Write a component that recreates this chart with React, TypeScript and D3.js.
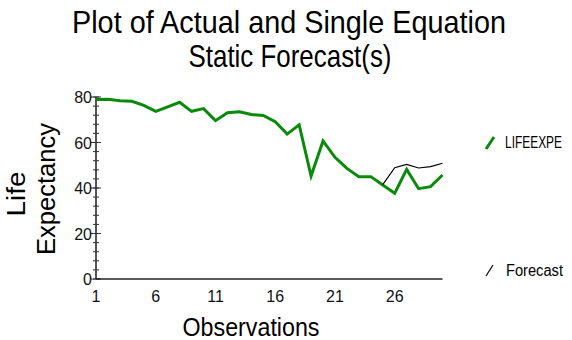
import React, { useRef, useEffect } from 'react';
import * as d3 from 'd3';

const observations = d3.range(1, 31);
const actual = [78.9, 79.0, 78.4, 78.1, 76.3, 73.7, 75.7, 77.7, 73.7, 74.9, 69.6, 73.1, 73.5, 72.3, 71.9, 69.1, 63.7, 67.8, 45.3, 60.7, 53.5, 48.6, 45.0, 45.0, 41.3, 37.7, 48.2, 39.7, 40.6, 45.7];
const forecastObs = [25, 26, 27, 28, 29, 30];
const forecast = [41.5, 48.9, 50.4, 48.8, 49.4, 50.9];
const xTicks = [1, 6, 11, 16, 21, 26];
const yTicks = [0, 20, 40, 60, 80];

const App = () => {
  const svgRef = useRef<SVGSVGElement>(null);

  useEffect(() => {
    const svg = d3.select(svgRef.current);
    svg.selectAll('*').remove();
    const font = 'Liberation Sans, Arial, sans-serif';

    const x = d3.scaleLinear().domain([1, 30]).range([96, 442.5]);
    const y = d3.scaleLinear().domain([0, 80]).range([279, 97]);

    // title (glyphs are tall and slightly condensed in the original)
    svg.append('text').attr('x', 289).attr('y', 33).attr('text-anchor', 'middle')
      .attr('font-family', font).attr('font-size', 32).attr('fill', '#000')
      .attr('textLength', 434).attr('lengthAdjust', 'spacingAndGlyphs')
      .text('Plot of Actual and Single Equation');
    svg.append('text').attr('x', 290).attr('y', 67).attr('text-anchor', 'middle')
      .attr('font-family', font).attr('font-size', 32).attr('fill', '#000')
      .attr('textLength', 203).attr('lengthAdjust', 'spacingAndGlyphs')
      .text('Static Forecast(s)');

    // y axis with minor ticks
    const yAxis = svg.append('g');
    yAxis.append('line').attr('x1', x(1)).attr('x2', x(1)).attr('y1', y(80)).attr('y2', y(0))
      .attr('stroke', '#555').attr('stroke-width', 2);
    yAxis.selectAll('.minor').data(d3.range(0, 81, 4)).enter().append('line')
      .attr('x1', x(1) - 3).attr('x2', x(1) + 3)
      .attr('y1', d => y(d)).attr('y2', d => y(d))
      .attr('stroke', '#333').attr('stroke-width', 1);
    yAxis.selectAll('.major').data(yTicks).enter().append('line')
      .attr('x1', x(1) - 5).attr('x2', x(1) + 5)
      .attr('y1', d => y(d)).attr('y2', d => y(d))
      .attr('stroke', '#333').attr('stroke-width', 1);
    yAxis.selectAll('.lbl').data(yTicks).enter().append('text')
      .attr('x', x(1) - 4).attr('y', d => y(d) + 6).attr('text-anchor', 'end')
      .attr('font-family', font).attr('font-size', 16).attr('fill', '#111')
      .text(d => d);

    // x axis
    const xAxis = svg.append('g');
    xAxis.append('line').attr('x1', x(1)).attr('x2', x(30)).attr('y1', y(0)).attr('y2', y(0))
      .attr('stroke', '#222').attr('stroke-width', 1.5);
    xAxis.selectAll('text').data(xTicks).enter().append('text')
      .attr('x', d => x(d)).attr('y', 302).attr('text-anchor', 'middle')
      .attr('font-family', font).attr('font-size', 16).attr('fill', '#111')
      .text(d => d);

    // axis titles
    svg.append('text').attr('x', 251).attr('y', 336).attr('text-anchor', 'middle')
      .attr('font-family', font).attr('font-size', 25).attr('fill', '#000')
      .attr('textLength', 137).attr('lengthAdjust', 'spacingAndGlyphs')
      .text('Observations');
    const yl = svg.append('g').attr('transform', 'translate(0,190) rotate(-90)');
    yl.append('text').attr('x', -4).attr('y', 25).attr('text-anchor', 'middle')
      .attr('font-family', font).attr('font-size', 25).attr('fill', '#000')
      .attr('textLength', 45).attr('lengthAdjust', 'spacingAndGlyphs').text('Life');
    yl.append('text').attr('x', 1).attr('y', 55).attr('text-anchor', 'middle')
      .attr('font-family', font).attr('font-size', 25).attr('fill', '#000')
      .attr('textLength', 132).attr('lengthAdjust', 'spacingAndGlyphs').text('Expectancy');

    const line = d3.line<number>().x((d, i) => x(observations[i])).y(d => y(d));
    svg.append('path').datum(actual).attr('fill', 'none').attr('stroke', '#0a8a0a')
      .attr('stroke-width', 3).attr('stroke-linejoin', 'miter').attr('d', line);

    const fline = d3.line<number>().x((d, i) => x(forecastObs[i])).y(d => y(d));
    svg.append('path').datum(forecast).attr('fill', 'none').attr('stroke', '#000')
      .attr('stroke-width', 1.2).attr('d', fline);

    // legend
    svg.append('line').attr('x1', 486).attr('y1', 149).attr('x2', 494).attr('y2', 137)
      .attr('stroke', '#0a8a0a').attr('stroke-width', 3);
    svg.append('text').attr('x', 505).attr('y', 148).attr('font-family', font)
      .attr('font-size', 16).attr('textLength', 57).attr('lengthAdjust', 'spacingAndGlyphs')
      .attr('fill', '#000').text('LIFEEXPE');
    svg.append('line').attr('x1', 486).attr('y1', 276).attr('x2', 493).attr('y2', 265)
      .attr('stroke', '#000').attr('stroke-width', 1.2);
    svg.append('text').attr('x', 506).attr('y', 276).attr('font-family', font)
      .attr('font-size', 16).attr('textLength', 57).attr('lengthAdjust', 'spacingAndGlyphs')
      .attr('fill', '#000').text('Forecast');
  }, []);

  return (
    <svg ref={svgRef} width={572} height={340}
      style={{ position: 'absolute', left: 0, top: 0, background: '#fff' }} />
  );
};

export default App;
